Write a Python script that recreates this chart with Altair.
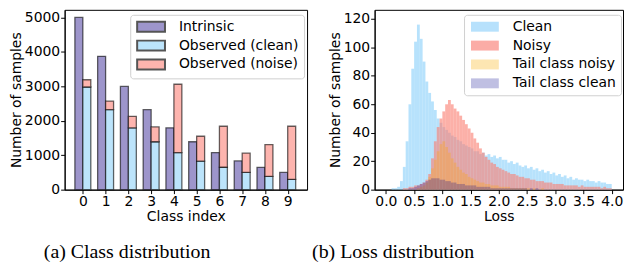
import altair as alt
import pandas as pd

# ---------------- (a) class distribution ----------------
classes = list(range(10))
intrinsic = [5000, 3871, 2997, 2320, 1796, 1391, 1077, 834, 645, 500]
observed_clean = [2980, 2320, 1795, 1390, 1075, 830, 650, 500, 385, 300]
observed_total = [3190, 2570, 2130, 1820, 3060, 1550, 1840, 1060, 1310, 1840]

# ---------------- (b) loss distribution (bins of 0.05 from 0 to 4) ----------------
bin_width = 0.05
loss_clean = [0, 0, 1, 1, 2, 6, 16, 34, 60, 85,
              104, 116, 106, 90, 76, 68, 62, 56, 50, 47,
              44, 42, 40, 38, 37, 35, 34, 32, 31, 30,
              29, 27, 27, 25, 26, 24, 25, 23, 24, 22,
              23, 21, 21, 19, 20, 18, 19, 17, 16, 17,
              15, 16, 14, 15, 13, 14, 12, 13, 11, 12,
              10, 11, 9, 10, 8, 9, 7, 8, 7, 7,
              6, 7, 6, 6, 5, 6, 5, 5, 4, 4]
loss_noisy = [0, 0, 0, 0, 0, 0, 1, 1, 2, 2,
              3, 3, 4, 5, 7, 11, 22, 34, 44, 50,
              55, 60, 63, 60, 57, 55, 52, 49, 46, 43,
              40, 36, 33, 29, 26, 23, 21, 19, 18, 16,
              15, 14, 13, 12, 11, 11, 10, 9, 9, 8,
              8, 7, 7, 6, 6, 6, 5, 5, 5, 4,
              4, 4, 4, 3, 3, 3, 3, 3, 2, 3,
              2, 2, 2, 2, 2, 2, 1, 2, 1, 1]
loss_tail_noisy = [0, 0, 0, 0, 0, 0, 0, 0, 0, 0,
                   0, 1, 2, 3, 5, 9, 15, 21, 27, 32,
                   34, 30, 26, 22, 19, 16, 14, 12, 11, 9,
                   8, 7, 6, 5, 5, 4, 4, 3, 3, 3,
                   2, 2, 2, 2, 1, 1, 1, 1, 1, 1,
                   1, 0, 1, 0, 0, 1, 0, 0, 0, 0,
                   0, 0, 0, 0, 0, 0, 0, 0, 0, 0,
                   0, 0, 0, 0, 0, 0, 0, 0, 0, 0]
loss_tail_clean = [0, 0, 0, 0, 0, 0, 0, 0, 1, 1,
                   2, 3, 4, 5, 6, 7, 8, 8, 8, 7,
                   7, 6, 6, 5, 5, 4, 4, 4, 3, 3,
                   3, 3, 2, 2, 2, 2, 2, 1, 1, 1,
                   1, 1, 1, 1, 1, 1, 1, 1, 1, 1,
                   0, 1, 0, 1, 0, 0, 0, 0, 0, 0,
                   0, 0, 0, 0, 0, 0, 0, 0, 0, 0,
                   0, 0, 0, 0, 0, 0, 0, 0, 0, 0]

FONT = "DejaVu Sans"
RECT = "M-2.8,-1H2.8V1H-2.8Z"


def legend(x, y, stroke_w, row_pad, stroke_c="#555"):
    return alt.Legend(title=None, orient="none", legendX=x, legendY=y,
                      symbolType=RECT, symbolSize=100,
                      symbolStrokeColor=stroke_c, symbolStrokeWidth=stroke_w,
                      symbolOffset=9, labelOffset=21,
                      fillColor="white", strokeColor="#d0d0d0",
                      cornerRadius=3, padding=5, rowPadding=row_pad,
                      labelFontSize=14, labelFont=FONT, labelColor="black")


def caption(text, dx):
    return alt.TitleParams(text, orient="bottom", anchor="start", frame="group",
                           dx=dx, offset=19, font="Liberation Serif", fontSize=20,
                           fontWeight="normal", color="black")


# ---- left panel data ----
rows = []
for c, a, b, t in zip(classes, intrinsic, observed_clean, observed_total):
    rows.append(dict(cls=c, series="Intrinsic", side=-1, lo=0, hi=a))
    rows.append(dict(cls=c, series="Observed (clean)", side=0, lo=0, hi=b))
    rows.append(dict(cls=c, series="Observed (noise)", side=0, lo=b, hi=t))
bars = pd.DataFrame(rows)

bar_domain = ["Intrinsic", "Observed (clean)", "Observed (noise)"]
bar_colors = ["#9d95cb", "#bce4fb", "#fdb4ae"]

left = alt.Chart(bars).transform_calculate(
    x0="datum.cls + datum.side * 0.35",
    x1="datum.cls + (datum.side + 1) * 0.35",
).mark_bar(stroke="#000", strokeWidth=1.3, strokeOpacity=0.6).encode(
    x=alt.X("x0:Q", scale=alt.Scale(domain=[-0.8, 9.85], nice=False, zero=False),
            axis=alt.Axis(values=classes, format="d", title="Class index")),
    x2="x1:Q",
    y=alt.Y("hi:Q", scale=alt.Scale(domain=[0, 5220], nice=False),
            axis=alt.Axis(values=[0, 1000, 2000, 3000, 4000, 5000], format="d",
                          title="Number of samples")),
    y2="lo:Q",
    color=alt.Color("series:N", scale=alt.Scale(domain=bar_domain, range=bar_colors),
                    legend=legend(66, 5, 2, 1)),
).properties(width=244, height=181, title=caption("(a) Class distribution", -21))

# ---- right panel data ----
series_names = ["Clean", "Noisy", "Tail class noisy", "Tail class clean"]
series_vals = [loss_clean, loss_noisy, loss_tail_noisy, loss_tail_clean]
series_fill = ["#87cefa", "#fa8072", "#ffa500", "#00008b"]
series_alpha = [0.6, 0.62, 0.3, 0.25]
legend_swatch = ["#b7e1fc", "#fbaca6", "#fde6b2", "#bfbfe2"]

hrows = []
for name, vals, fc, a in zip(series_names, series_vals, series_fill, series_alpha):
    for i, v in enumerate(vals):
        hrows.append(dict(series=name, b=i, count=v, fillc=fc, alpha=a))
hist = pd.DataFrame(hrows)

xenc = alt.X("start:Q", scale=alt.Scale(domain=[-0.2, 4.2], nice=False, zero=False),
             axis=alt.Axis(values=[0, 0.5, 1, 1.5, 2, 2.5, 3, 3.5, 4], format=".1f",
                           title="Loss"))
yenc = alt.Y("count:Q", scale=alt.Scale(domain=[0, 126.4], nice=False),
             axis=alt.Axis(values=[0, 20, 40, 60, 80, 100, 120], title="Number of samples"))

base = alt.Chart(hist).transform_calculate(
    start=f"datum.b * {bin_width}",
    end=f"(datum.b + 1) * {bin_width}",
)

hist_bars = base.mark_bar(strokeWidth=0).encode(
    x=xenc, x2="end:Q", y=yenc, y2=alt.datum(0),
    fill=alt.Fill("fillc:N", scale=None, legend=None),
    opacity=alt.Opacity("alpha:Q", scale=None, legend=None),
)

hist_legend = base.transform_filter("false").mark_bar().encode(
    x=xenc, x2="end:Q", y=yenc, y2=alt.datum(0),
    color=alt.Color("series:N", scale=alt.Scale(domain=series_names, range=legend_swatch),
                    legend=legend(90, 5, 0, 5)),
)

right = alt.layer(hist_bars, hist_legend).properties(
    width=250, height=181, title=caption("(b) Loss distribution", -63))

chart = alt.hconcat(left, right, spacing=3).resolve_scale(
    color="independent", x="independent", y="independent"
).resolve_legend(color="independent").properties(padding=0).configure_axis(
    labelFont=FONT, titleFont=FONT, labelFontSize=14, titleFontSize=14,
    titleFontWeight="normal", labelColor="black", titleColor="black",
    tickColor="black", domainColor="black", tickSize=4, grid=False,
    labelPadding=1, titlePadding=1,
).configure_view(stroke="black", strokeWidth=1)

chart.save("out.html", embed_options={"renderer": "svg", "actions": False})
